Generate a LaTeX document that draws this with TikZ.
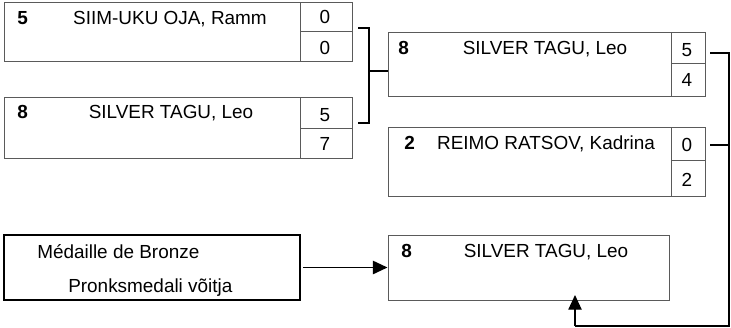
\documentclass[tikz,border=0pt]{standalone}
\usepackage{fontspec}
\setmainfont{Liberation Sans}
\usetikzlibrary{arrows.meta,fit}
\definecolor{boxgray}{RGB}{90,90,90}
\begin{document}
\begin{tikzpicture}[x=0.75pt,y=-0.75pt,
  box/.style={draw=boxgray, line width=0.75pt, inner sep=0pt},
  bronzebox/.style={draw=black, line width=1.5pt, inner sep=0pt},
  txt/.style={inner sep=0pt, anchor=base, font=\fontsize{14.2}{16}\selectfont},
  seed/.style={inner sep=0pt, anchor=base west, font=\fontsize{14.2}{16}\selectfont\bfseries},
  ltxt/.style={inner sep=0pt, anchor=base west, font=\fontsize{14.2}{16}\selectfont},
  conn/.style={draw=black, line width=0.9pt},
  arr/.style={conn, -{Triangle[length=11pt,width=10pt]}}]
\useasboundingbox (0,0) rectangle (731,328);
% Box A
\node[box, fit={(4,3) (352,62)}] (A) {};
\node[box, fit={(300,3) (352,32)}] (As1) {};
\node[box, fit={(300,32) (352,62)}] (As2) {};
\node[seed] (Aseed) at (17,25) {5};
\node[txt] (Aname) at (170,25) {SIIM-UKU OJA, Ramm};
\node[txt] (Asc1) at (325,24) {0};
\node[txt] (Asc2) at (325,55) {0};
% Box B
\node[box, fit={(4,97) (352,158)}] (B) {};
\node[box, fit={(300,97) (352,128)}] (Bs1) {};
\node[box, fit={(300,128) (352,158)}] (Bs2) {};
\node[seed] (Bseed) at (17,118) {8};
\node[txt] (Bname) at (171,118) {SILVER TAGU, Leo};
\node[txt] (Bsc1) at (325,121) {5};
\node[txt] (Bsc2) at (325,150) {7};
% Box C
\node[box, fit={(388,33) (705,96)}] (C) {};
\node[box, fit={(671,33) (705,64)}] (Cs1) {};
\node[box, fit={(671,64) (705,96)}] (Cs2) {};
\node[seed] (Cseed) at (398,55) {8};
\node[txt] (Cname) at (545,55) {SILVER TAGU, Leo};
\node[txt] (Csc1) at (687,56.5) {5};
\node[txt] (Csc2) at (687,87) {4};
% Box D
\node[box, fit={(388,127) (705,196)}] (D) {};
\node[box, fit={(671,127) (705,160)}] (Ds1) {};
\node[box, fit={(671,160) (705,196)}] (Ds2) {};
\node[seed] (Dseed) at (404,149) {2};
\node[txt] (Dname) at (546,149) {REIMO RATSOV, Kadrina};
\node[txt] (Dsc1) at (687,151.5) {0};
\node[txt] (Dsc2) at (687,186.5) {2};
% Bronze label box
\node[bronzebox, fit={(4,235) (300,300)}] (Bz) {};
\node[ltxt] (Bz1) at (37,258) {Médaille de Bronze};
\node[ltxt] (Bz2) at (68,292) {Pronksmedali võitja};
% Box E
\node[box, fit={(388,235) (669,300)}] (E) {};
\node[seed] (Eseed) at (401,257) {8};
\node[txt] (Ename) at (546,257) {SILVER TAGU, Leo};
% Bracket A/B -> C
\coordinate (b1) at (358,28);
\coordinate (b2) at (369,28);
\coordinate (b3) at (369,123);
\coordinate (b4) at (358,123);
\coordinate (bm) at (369,71);
\draw[conn] (b1) -- (b2) -- (b3) -- (b4);
\draw[conn] (bm) -- (bm -| C.west);
% Right connector C/D -> E
\coordinate (c1) at (710,53);
\coordinate (c2) at (710,145);
\coordinate (c3) at (729,53);
\coordinate (c4) at (729,326);
\coordinate (c5) at (575,326);
\coordinate (c6) at (575,295);
\draw[conn] (c1) -- (c3) -- (c4) -- (c5);
\draw[conn] (c2) -- (c2 -| c3);
\draw[arr] (c5) -- (c6);
% Bronze arrow
\draw[arr, line width=1.3pt] ([xshift=1.5pt]Bz.east) -- (E.west);
\end{tikzpicture}
\end{document}
